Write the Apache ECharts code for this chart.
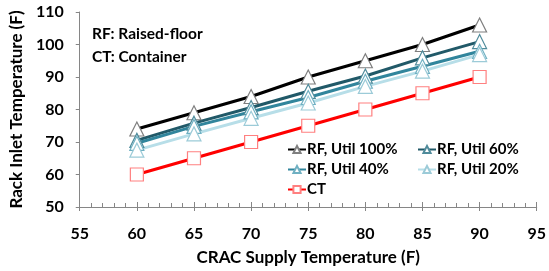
<!DOCTYPE html>
<html>
<head>
<meta charset="utf-8">
<script src="https://cdn.jsdelivr.net/npm/echarts@6/dist/echarts.min.js"></script>
<style>html,body{margin:0;padding:0;background:#fff}#c{width:549px;height:271px}</style>
</head>
<body>
<div id="c"></div>
<script>
var supplyTemps = [60, 65, 70, 75, 80, 85, 90];
var rf100 = [74, 79, 84, 90, 95, 100, 106];
var rf60 = [70.5, 75.8, 80.6, 85.6, 90.3, 95.9, 100.9];
var rf40 = [69.6, 74.8, 79.3, 83.7, 88.7, 93.3, 97.9];
var rf20 = [67.5, 72.5, 77.3, 82, 87.1, 91.8, 96.9];
var ct = [60, 65, 70, 75, 80, 85, 90];
var seriesNames = ['RF, Util 100%', 'RF, Util 60%', 'RF, Util 40%', 'RF, Util 20%', 'CT'];
var notes = ['RF: Raised-floor', 'CT: Container'];

function pairs(v) { return supplyTemps.map(function (x, i) { return [x, v[i]]; }); }

var FONT = 'Lato';
var chart = echarts.init(document.getElementById('c'), null, {renderer: 'canvas'});
function mk(name, data, lineColor, borderColor, symbol, size) {
  return {
    name: name, type: 'line', data: pairs(data), symbol: symbol, symbolSize: size,
    lineStyle: {color: lineColor, width: 3},
    itemStyle: {color: '#fff', borderColor: borderColor, borderWidth: 1.2},
    emphasis: {disabled: true}, animation: false, z: 3
  };
}
var legendPos = [[287, 142], [417, 142], [287, 162], [417, 162], [287, 182]];
var legends = seriesNames.map(function (n, i) {
  return {
    data: [n], left: legendPos[i][0], top: legendPos[i][1], padding: 0,
    itemWidth: 18, itemHeight: 9, itemGap: 0,
    textStyle: {fontFamily: FONT, fontWeight: 'bold', fontSize: 15, color: '#000', padding: [0, 0, 0, -4]}
  };
});
chart.setOption({
  animation: false,
  grid: {left: 79, right: 9, top: 12, bottom: 63},
  textStyle: {fontFamily: FONT},
  xAxis: [{
    type: 'value', min: 55, max: 95, interval: 5,
    name: 'CRAC Supply Temperature (F)', nameLocation: 'middle', nameGap: 42,
    nameTextStyle: {fontFamily: FONT, fontWeight: 'bold', fontSize: 17, color: '#000'},
    axisLine: {show: true, lineStyle: {color: '#868686', width: 1}},
    axisTick: {show: true, inside: true, length: 5, lineStyle: {color: '#868686'}},
    minorTick: {show: true, splitNumber: 5, length: 4, lineStyle: {color: '#868686'}},
    axisLabel: {fontFamily: FONT, fontWeight: 'bold', fontSize: 16, color: '#000', margin: 19},
    splitLine: {show: false}
  }, {
    type: 'value', min: 55, max: 95, interval: 5, position: 'bottom',
    axisLine: {show: false},
    axisTick: {show: true, inside: false, length: 4, lineStyle: {color: '#868686'}},
    axisLabel: {show: false}, splitLine: {show: false}
  }],
  yAxis: {
    type: 'value', min: 50, max: 110, interval: 10,
    name: 'Rack Inlet Temperature (F)', nameLocation: 'middle', nameGap: 48,
    nameTextStyle: {fontFamily: FONT, fontWeight: 'bold', fontSize: 17, color: '#000'},
    axisLine: {show: true, lineStyle: {color: '#868686', width: 1}},
    axisTick: {show: true, length: 4, lineStyle: {color: '#868686'}},
    axisLabel: {fontFamily: FONT, fontWeight: 'bold', fontSize: 16, color: '#000', margin: 16},
    splitLine: {show: false}
  },
  legend: legends,
  graphic: [
    {type: 'text', left: 92, top: 26, style: {text: notes[0], fontFamily: FONT, fontWeight: 'bold', fontSize: 15.5, fill: '#000'}},
    {type: 'text', left: 92, top: 49, style: {text: notes[1], fontFamily: FONT, fontWeight: 'bold', fontSize: 15.5, fill: '#000'}}
  ],
  series: [
    mk(seriesNames[0], rf100, '#000000', '#7f7f7f', 'triangle', 14),
    mk(seriesNames[1], rf60, '#215968', '#4f8b9b', 'triangle', 14),
    mk(seriesNames[2], rf40, '#31859c', '#6fb0c2', 'triangle', 14),
    mk(seriesNames[3], rf20, '#b7dee8', '#9ccbd8', 'triangle', 14),
    mk(seriesNames[4], ct, '#ff0000', '#ff8080', 'rect', 13)
  ]
});
</script>
</body>
</html>
